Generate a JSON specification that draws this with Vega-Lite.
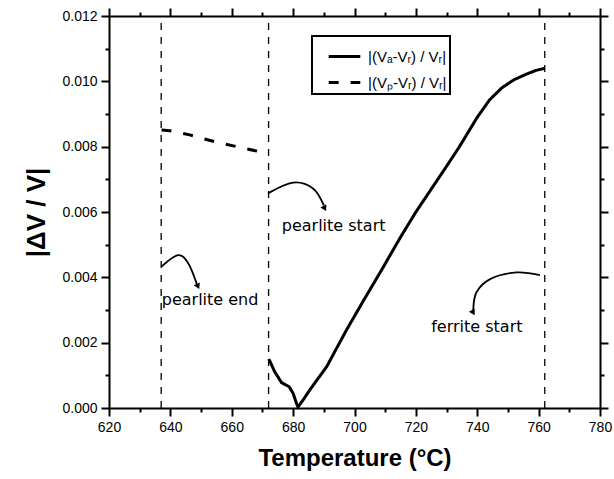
{
  "$schema": "https://vega.github.io/schema/vega-lite/v6.json",
  "width": 491,
  "height": 392,
  "autosize": {"type": "none"},
  "padding": {"left": 109, "top": 16, "right": 14, "bottom": 71},
  "background": "white",
  "config": {
    "view": {"stroke": null},
    "font": "Liberation Sans",
    "axis": {
      "domainColor": "black", "domainWidth": 2, "tickColor": "black", "tickWidth": 2,
      "labelColor": "black", "labelFont": "Liberation Sans", "labelFontSize": 14, "labelFlush": false,
      "grid": false, "titleColor": "black", "titleFont": "Liberation Sans"
    },
    "legend": {
      "orient": "none", "legendX": 203, "legendY": 20,
      "strokeColor": "black", "strokeWidth": 2, "fillColor": "white", "padding": 3,
      "symbolType": "stroke", "symbolStrokeWidth": 3, "symbolSize": 1000, "symbolStrokeColor": "black",
      "symbolOffset": 12, "labelOffset": 6,
      "labelFont": "Liberation Sans", "labelFontSize": 15, "labelColor": "black", "rowPadding": -10
    }
  },
  "datasets": {
    "curves": [
      {"T": 672.1, "v": 0.00150, "s": "|(Vₐ-Vᵣ) / Vᵣ|"},
      {"T": 674.0, "v": 0.00111, "s": "|(Vₐ-Vᵣ) / Vᵣ|"},
      {"T": 676.2, "v": 0.00078, "s": "|(Vₐ-Vᵣ) / Vᵣ|"},
      {"T": 678.7, "v": 0.00065, "s": "|(Vₐ-Vᵣ) / Vᵣ|"},
      {"T": 680.0, "v": 0.00045, "s": "|(Vₐ-Vᵣ) / Vᵣ|"},
      {"T": 681.1, "v": 0.00014, "s": "|(Vₐ-Vᵣ) / Vᵣ|"},
      {"T": 681.6, "v": 0.00003, "s": "|(Vₐ-Vᵣ) / Vᵣ|"},
      {"T": 683.5, "v": 0.00028, "s": "|(Vₐ-Vᵣ) / Vᵣ|"},
      {"T": 685.4, "v": 0.00055, "s": "|(Vₐ-Vᵣ) / Vᵣ|"},
      {"T": 690.9, "v": 0.00126, "s": "|(Vₐ-Vᵣ) / Vᵣ|"},
      {"T": 697.4, "v": 0.00239, "s": "|(Vₐ-Vᵣ) / Vᵣ|"},
      {"T": 703.0, "v": 0.00330, "s": "|(Vₐ-Vᵣ) / Vᵣ|"},
      {"T": 708.8, "v": 0.00422, "s": "|(Vₐ-Vᵣ) / Vᵣ|"},
      {"T": 714.8, "v": 0.00520, "s": "|(Vₐ-Vᵣ) / Vᵣ|"},
      {"T": 720.0, "v": 0.00600, "s": "|(Vₐ-Vᵣ) / Vᵣ|"},
      {"T": 725.0, "v": 0.00670, "s": "|(Vₐ-Vᵣ) / Vᵣ|"},
      {"T": 730.0, "v": 0.00740, "s": "|(Vₐ-Vᵣ) / Vᵣ|"},
      {"T": 734.2, "v": 0.00800, "s": "|(Vₐ-Vᵣ) / Vᵣ|"},
      {"T": 740.0, "v": 0.00890, "s": "|(Vₐ-Vᵣ) / Vᵣ|"},
      {"T": 744.0, "v": 0.00943, "s": "|(Vₐ-Vᵣ) / Vᵣ|"},
      {"T": 748.0, "v": 0.00980, "s": "|(Vₐ-Vᵣ) / Vᵣ|"},
      {"T": 752.0, "v": 0.01005, "s": "|(Vₐ-Vᵣ) / Vᵣ|"},
      {"T": 756.0, "v": 0.01022, "s": "|(Vₐ-Vᵣ) / Vᵣ|"},
      {"T": 759.0, "v": 0.01033, "s": "|(Vₐ-Vᵣ) / Vᵣ|"},
      {"T": 762.0, "v": 0.01040, "s": "|(Vₐ-Vᵣ) / Vᵣ|"},
      {"T": 637.1, "v": 0.00851, "s": "|(Vₚ-Vᵣ) / Vᵣ|"},
      {"T": 639.8, "v": 0.00849, "s": "|(Vₚ-Vᵣ) / Vᵣ|"},
      {"T": 646.3, "v": 0.00836, "s": "|(Vₚ-Vᵣ) / Vᵣ|"},
      {"T": 654.5, "v": 0.00815, "s": "|(Vₚ-Vᵣ) / Vᵣ|"},
      {"T": 662.6, "v": 0.00798, "s": "|(Vₚ-Vᵣ) / Vᵣ|"},
      {"T": 670.8, "v": 0.00781, "s": "|(Vₚ-Vᵣ) / Vᵣ|"},
      {"T": 671.9, "v": 0.00777, "s": "|(Vₚ-Vᵣ) / Vᵣ|"}
    ],
    "rules": [{"T": 637}, {"T": 672}, {"T": 762}],
    "arrows": [
      {"a": "a1", "i": 0, "T": 637.1, "v": 0.00433},
      {"a": "a1", "i": 1, "T": 642.5, "v": 0.00468},
      {"a": "a1", "i": 2, "T": 645.8, "v": 0.00443},
      {"a": "a1", "i": 3, "T": 648.6, "v": 0.00380},
      {"a": "a2", "i": 0, "T": 671.8, "v": 0.00657},
      {"a": "a2", "i": 1, "T": 680.0, "v": 0.00690},
      {"a": "a2", "i": 2, "T": 686.5, "v": 0.00672},
      {"a": "a2", "i": 3, "T": 690.0, "v": 0.00620},
      {"a": "a3", "i": 0, "T": 760.4, "v": 0.00407},
      {"a": "a3", "i": 1, "T": 752.8, "v": 0.00415},
      {"a": "a3", "i": 2, "T": 744.5, "v": 0.00396},
      {"a": "a3", "i": 3, "T": 739.8, "v": 0.00355},
      {"a": "a3", "i": 4, "T": 738.7, "v": 0.00300}
    ],
    "heads": [
      {"a": "a1", "T": 649.0, "v": 0.00372},
      {"a": "a2", "T": 690.3, "v": 0.00611},
      {"a": "a3", "T": 738.7, "v": 0.00292}
    ],
    "labels": [
      {"T": 637.2, "v": 0.00331, "t": "pearlite end"},
      {"T": 676.3, "v": 0.00557, "t": "pearlite start"},
      {"T": 725.0, "v": 0.00248, "t": "ferrite start"}
    ]
  },
  "resolve": {"axis": {"x": "independent", "y": "independent"}},
  "layer": [
    {
      "data": {"name": "curves"},
      "mark": {"type": "line", "color": "black", "strokeWidth": 3},
      "encoding": {
        "x": {"field": "T", "type": "quantitative",
          "scale": {"domain": [620, 780], "nice": false, "zero": false},
          "axis": {"orient": "bottom", "values": [620,640,660,680,700,720,740,760,780], "tickSize": 8, "labelPadding": 4,
            "title": "Temperature (°C)", "titleFontSize": 24, "titleFontWeight": "bold", "titlePadding": 12}},
        "y": {"field": "v", "type": "quantitative",
          "scale": {"domain": [0, 0.012], "nice": false},
          "axis": {"orient": "left", "values": [0,0.002,0.004,0.006,0.008,0.010,0.012], "format": ".3f", "tickSize": 8, "labelPadding": 4,
            "title": "|ΔV / V|", "titleFontSize": 26, "titleFontWeight": "bold", "titlePadding": 12}},
        "strokeDash": {"field": "s", "type": "nominal",
          "scale": {"domain": ["|(Vₐ-Vᵣ) / Vᵣ|", "|(Vₚ-Vᵣ) / Vᵣ|"], "range": [[1, 0], [10, 12]]},
          "legend": {"title": null}}
      }
    },
    {
      "data": {"name": "rules"},
      "mark": {"type": "rule", "color": "black", "strokeWidth": 1.3, "strokeDash": [7, 7]},
      "encoding": {
        "x": {"field": "T", "type": "quantitative",
          "scale": {"domain": [620, 780], "nice": false, "zero": false},
          "axis": {"orient": "top", "values": [620,640,660,680,700,720,740,760,780], "tickSize": 8, "labels": false, "title": null}},
        "y": {"datum": 0, "type": "quantitative", "scale": {"domain": [0, 0.012], "nice": false},
          "axis": {"orient": "right", "values": [0,0.002,0.004,0.006,0.008,0.010,0.012], "tickSize": 8, "labels": false, "title": null}},
        "y2": {"datum": 0.012}
      }
    },
    {
      "data": {"name": "arrows"},
      "mark": {"type": "line", "color": "black", "strokeWidth": 1.8, "interpolate": "cardinal"},
      "encoding": {
        "x": {"field": "T", "type": "quantitative",
          "scale": {"domain": [620, 780], "nice": false, "zero": false},
          "axis": {"orient": "bottom", "values": [630,650,670,690,710,730,750,770], "tickSize": 4, "labels": false, "domain": false, "title": null}},
        "y": {"field": "v", "type": "quantitative", "scale": {"domain": [0, 0.012], "nice": false},
          "axis": {"orient": "left", "values": [0.001,0.003,0.005,0.007,0.009,0.011], "tickSize": 4, "labels": false, "domain": false, "title": null}},
        "detail": {"field": "a", "type": "nominal"},
        "order": {"field": "i", "type": "quantitative"}
      }
    },
    {
      "data": {"name": "heads"},
      "mark": {"type": "point", "shape": "triangle-down", "filled": true, "color": "black", "opacity": 1, "size": 45},
      "encoding": {
        "x": {"field": "T", "type": "quantitative",
          "scale": {"domain": [620, 780], "nice": false, "zero": false},
          "axis": {"orient": "top", "values": [630,650,670,690,710,730,750,770], "tickSize": 4, "labels": false, "domain": false, "title": null}},
        "y": {"field": "v", "type": "quantitative", "scale": {"domain": [0, 0.012], "nice": false},
          "axis": {"orient": "right", "values": [0.001,0.003,0.005,0.007,0.009,0.011], "tickSize": 4, "labels": false, "domain": false, "title": null}},
        "angle": {"field": "a", "type": "nominal", "scale": {"domain": ["a1", "a2", "a3"], "range": [-25, -30, 0]}, "legend": null}
      }
    },
    {
      "data": {"name": "labels"},
      "mark": {"type": "text", "color": "black", "fontSize": 16, "font": "DejaVu Sans", "align": "left", "baseline": "middle"},
      "encoding": {
        "x": {"field": "T", "type": "quantitative", "scale": {"domain": [620, 780], "nice": false, "zero": false}, "axis": null},
        "y": {"field": "v", "type": "quantitative", "scale": {"domain": [0, 0.012], "nice": false}, "axis": null},
        "text": {"field": "t"}
      }
    }
  ]
}
